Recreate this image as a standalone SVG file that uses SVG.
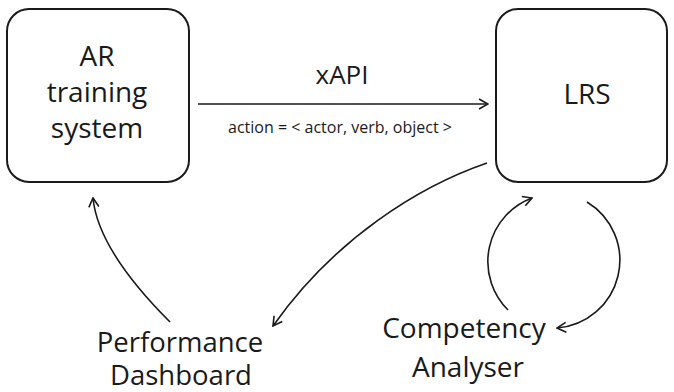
<svg xmlns="http://www.w3.org/2000/svg" width="674" height="392" viewBox="0 0 674 392">
  <style>
    .box { fill: #fff; stroke: #1a1a1a; stroke-width: 2; }
    .lbl { font-family: "Open Sans", "Noto Sans", sans-serif; fill: #1a1a1a; text-anchor: middle; }
    .big { font-size: 28px; }
    .mid { font-size: 26px; }
    .small { font-size: 16px; }
    .edge { fill: none; stroke: #1a1a1a; stroke-width: 1.6; }
  </style>
  <defs>
    <marker id="open" viewBox="0 0 12 12" refX="11" refY="6" markerWidth="12" markerHeight="12" markerUnits="userSpaceOnUse" orient="auto">
      <path d="M2,1 L11,6 L2,11" fill="none" stroke="#1a1a1a" stroke-width="1.6"/>
    </marker>
  </defs>
  <rect width="674" height="392" fill="#fff"/>

  <g id="ar-training-system">
    <rect class="box" x="7" y="9" width="182" height="173" rx="22"/>
    <text class="lbl big" x="97" y="66">AR</text>
    <text class="lbl big" x="97" y="102">training</text>
    <text class="lbl big" x="97" y="138">system</text>
  </g>

  <g id="lrs">
    <rect class="box" x="496" y="9" width="171" height="173" rx="22"/>
    <text class="lbl big" x="587" y="104">LRS</text>
  </g>

  <g id="performance-dashboard">
    <text class="lbl big" x="180" y="352" style="font-size:27.5px">Performance</text>
    <text class="lbl big" x="181" y="385" style="font-size:27.5px">Dashboard</text>
  </g>

  <g id="competency-analyser">
    <text class="lbl big" x="464" y="338">Competency</text>
    <text class="lbl big" x="468" y="377">Analyser</text>
  </g>

  <g id="connectors">
    <!-- xAPI statement flow -->
    <line class="edge" x1="198" y1="104" x2="488" y2="104" marker-end="url(#open)"/>
    <text class="lbl mid" x="342" y="84">xAPI</text>
    <text class="lbl small" x="340" y="133">action = &lt; actor, verb, object &gt;</text>
    <!-- LRS to dashboard -->
    <path class="edge" d="M487,163 C420,186 335,238 273,326" marker-end="url(#open)"/>
    <!-- dashboard back to AR system -->
    <path class="edge" d="M170,322 Q98,250 93,198" marker-end="url(#open)"/>
    <!-- analysis loop -->
    <path class="edge" d="M508,310 A68,68 0 0 1 532,198" marker-end="url(#open)"/>
    <path class="edge" d="M587,202 A68,68 0 0 1 557,328" marker-end="url(#open)"/>
  </g>
</svg>
